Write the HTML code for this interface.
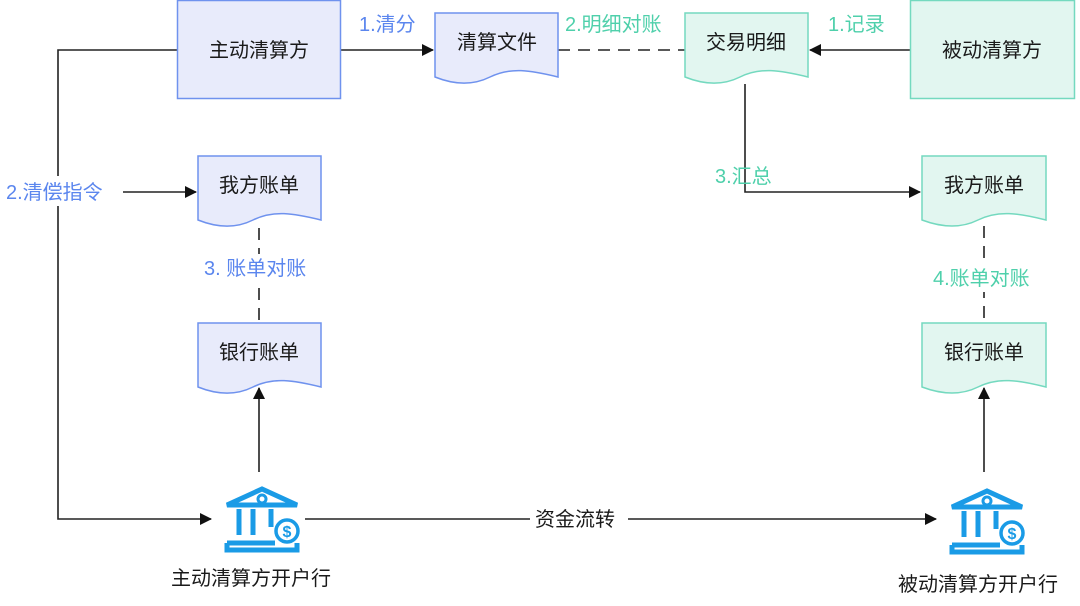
<!DOCTYPE html>
<html><head><meta charset="utf-8"><style>
html,body{margin:0;padding:0;background:#fff;}
svg{display:block;}
text{font-family:"Liberation Sans","Noto Sans CJK SC",sans-serif;}
</style></head><body>
<svg width="1080" height="606" viewBox="0 0 1080 606" xmlns="http://www.w3.org/2000/svg">
<defs>
<marker id="a" markerWidth="12" markerHeight="12" refX="11" refY="6" orient="auto" markerUnits="userSpaceOnUse"><path d="M0,0 L12,6 L0,12 Z" fill="#111"/></marker>
<g id="bank" fill="none" stroke="#1a9be6" stroke-width="5">
<path d="M2,20 L37,4 L72,20 Z" stroke-linejoin="miter"/>
<circle cx="37" cy="14" r="4" stroke-width="3"/>
<line x1="14" y1="24" x2="14" y2="50"/><line x1="28" y1="24" x2="28" y2="50"/><line x1="46" y1="24" x2="46" y2="42"/>
<path d="M2,58 H50 M2,58 V65 H72 V58"/>
<circle cx="62" cy="46" r="11" fill="#fff" stroke-width="3.5"/>
<text x="62" y="52" font-size="16" fill="#1a9be6" stroke="none" text-anchor="middle" font-weight="bold">$</text>
</g>
</defs>

<g stroke="#222" stroke-width="1.6" fill="none">
<path d="M177,50 H58 V519 H211" marker-end="url(#a)"/>
<line x1="340" y1="50" x2="433" y2="50" marker-end="url(#a)"/>
<line x1="558" y1="50" x2="685" y2="50" stroke-dasharray="12,8"/>
<line x1="910" y1="50" x2="810" y2="50" marker-end="url(#a)"/>
<path d="M745,84 V192 H920" marker-end="url(#a)"/>
<line x1="123" y1="192" x2="196" y2="192" marker-end="url(#a)"/>
<line x1="259" y1="228" x2="259" y2="323" stroke-dasharray="12,8"/>
<line x1="984" y1="226" x2="984" y2="323" stroke-dasharray="12,8"/>
<line x1="259" y1="472" x2="259" y2="388" marker-end="url(#a)"/>
<line x1="984" y1="472" x2="984" y2="388" marker-end="url(#a)"/>
<line x1="305" y1="519" x2="936" y2="519" marker-end="url(#a)"/>
</g>

<rect x="177.5" y="0.5" width="163" height="98" fill="#e8ebfb" stroke="#6f92ee" stroke-width="1.5"/>
<text x="259" y="57" font-size="20" text-anchor="middle" fill="#1a1a1a">主动清算方</text>
<rect x="910.5" y="0.5" width="164" height="98" fill="#e2f6f0" stroke="#74d9bf" stroke-width="1.5"/>
<text x="992" y="57" font-size="20" text-anchor="middle" fill="#1a1a1a">被动清算方</text>

<g stroke-width="1.5">
<path d="M435,13 H558 V77 C530,70 510,67 490,77 C470,87 450,83 435,77 Z" fill="#e8ebfb" stroke="#6f92ee"/>
<path d="M685,13 H808 V77 C780,70 760,67 740,77 C720,87 700,83 685,77 Z" fill="#e2f6f0" stroke="#74d9bf"/>
<path d="M198,156 H321 V220 C293,213 273,210 253,220 C233,230 213,226 198,220 Z" fill="#e8ebfb" stroke="#6f92ee"/>
<path d="M198,323 H321 V387 C293,380 273,377 253,387 C233,397 213,393 198,387 Z" fill="#e8ebfb" stroke="#6f92ee"/>
<path d="M922,156 H1046 V220 C1018,213 998,210 978,220 C958,230 938,226 922,220 Z" fill="#e2f6f0" stroke="#74d9bf"/>
<path d="M922,323 H1046 V387 C1018,380 998,377 978,387 C958,397 938,393 922,387 Z" fill="#e2f6f0" stroke="#74d9bf"/>
</g>
<g font-size="20" text-anchor="middle" fill="#1a1a1a">
<text x="497" y="49">清算文件</text>
<text x="746" y="49">交易明细</text>
<text x="259" y="192">我方账单</text>
<text x="259" y="359">银行账单</text>
<text x="984" y="192">我方账单</text>
<text x="984" y="359">银行账单</text>
</g>

<g font-size="20">
<text x="359" y="31" fill="#5b86ee">1.清分</text>
<text x="565" y="31" fill="#4fd0ab">2.明细对账</text>
<text x="828" y="31" fill="#4fd0ab">1.记录</text>
<text x="715" y="183" fill="#4fd0ab">3.汇总</text>
<rect x="5" y="176" width="108" height="30" fill="#fff"/>
<text x="6" y="199" fill="#5b86ee">2.清偿指令</text>
<rect x="200" y="254" width="120" height="28" fill="#fff"/>
<text x="204" y="275" fill="#5b86ee">3. 账单对账</text>
<rect x="930" y="264" width="110" height="28" fill="#fff"/>
<text x="933" y="285" fill="#4fd0ab">4.账单对账</text>
<rect x="530" y="506" width="98" height="26" fill="#fff"/>
<text x="535" y="526" fill="#1a1a1a">资金流转</text>
<text x="171" y="585" fill="#1a1a1a">主动清算方开户行</text>
<text x="898" y="591" fill="#1a1a1a">被动清算方开户行</text>
</g>

<use href="#bank" x="225" y="485"/>
<use href="#bank" x="950" y="487"/>
</svg>
</body></html>
